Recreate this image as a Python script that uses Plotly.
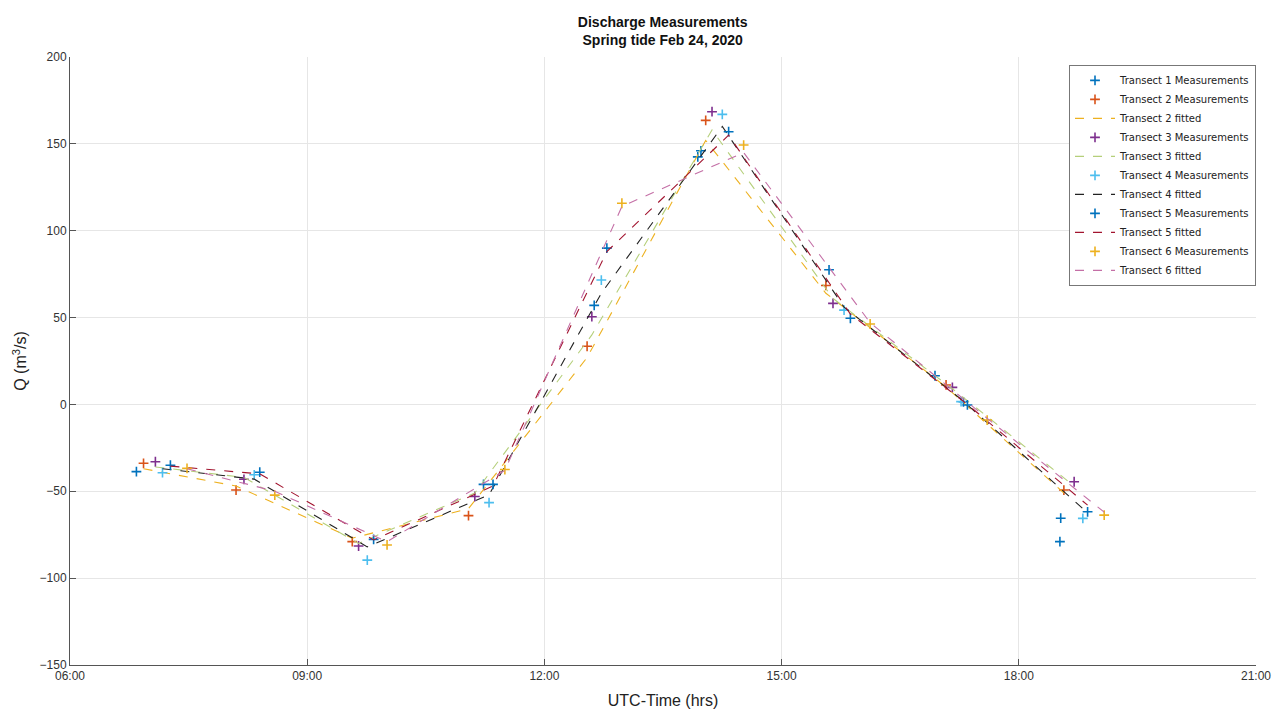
import plotly.graph_objects as go

# Measurement times (decimal hours UTC) and discharge (m^3/s) per transect
t1_time = [6.84, 11.23, 12.63, 13.94, 13.98, 15.60, 16.94, 17.30, 18.52, 18.53]
t1_q = [-38.7, -46.0, 57.0, 142.5, 146.0, 77.5, 16.5, 1.5, -79.0, -65.5]

t2_time = [6.93, 8.10, 9.57, 11.04, 12.54, 14.04, 15.56, 17.08, 18.57]
t2_q = [-33.9, -49.3, -79.0, -64.0, 33.5, 163.5, 68.5, 11.2, -49.3]
t2_fit = [-37.0, -47.0, -77.0, -60.0, 27.0, 152.0, 64.0, 10.0, -51.0]

t3_time = [7.08, 8.20, 9.65, 11.12, 12.60, 14.12, 15.65, 17.16, 18.70]
t3_q = [-33.0, -43.1, -81.5, -53.0, 50.5, 168.5, 58.2, 9.8, -44.5]
t3_fit = [-36.0, -42.0, -80.0, -51.0, 40.0, 158.0, 61.0, 9.0, -47.0]

t4_time = [7.17, 8.33, 9.76, 11.30, 12.72, 14.25, 15.79, 17.27, 18.81]
t4_q = [-39.3, -40.5, -89.6, -56.5, 71.6, 167.0, 54.3, 1.6, -65.6]
t4_fit = [-37.0, -43.0, -82.0, -52.0, 64.0, 160.0, 56.0, 3.0, -60.0]

t5_time = [7.27, 8.40, 9.84, 11.35, 12.79, 14.33, 15.87, 17.35, 18.87]
t5_q = [-35.0, -39.0, -77.7, -46.0, 90.0, 157.0, 49.6, -0.3, -61.8]
t5_fit = [-35.5, -40.0, -78.0, -47.0, 88.0, 155.0, 52.0, 0.0, -58.0]

t6_time = [7.48, 8.59, 10.01, 11.50, 12.98, 14.52, 16.12, 17.60, 19.08]
t6_q = [-36.8, -52.2, -80.9, -37.5, 115.8, 149.3, 46.3, -9.0, -63.7]
t6_fit = [-37.0, -50.0, -79.0, -38.0, 114.0, 145.0, 47.0, -8.0, -62.0]

x_tick_vals = [6, 9, 12, 15, 18, 21]
x_tick_text = ["06:00", "09:00", "12:00", "15:00", "18:00", "21:00"]

BLUE = "#0072BD"
ORANGE = "#D95319"
YELLOW = "#EDB120"
PURPLE = "#7E2F8E"
GREEN = "#B5CF7A"
LIGHTBLUE = "#4DBEEE"
BLACK = "#222222"
DARKRED = "#A2142F"
PINK = "#C46FA6"


def meas(x, y, name, color):
    return go.Scatter(
        x=x, y=y, mode="markers", name=name,
        marker=dict(symbol="cross-thin", size=7, color=color,
                    line=dict(width=1.6, color=color)),
    )


def fitted(x, y, name, color):
    return go.Scatter(
        x=x, y=y, mode="lines", name=name,
        line=dict(color=color, width=1.1, dash="dash"),
    )


fig = go.Figure()
fig.add_trace(meas(t1_time, t1_q, "Transect 1 Measurements", BLUE))
fig.add_trace(meas(t2_time, t2_q, "Transect 2 Measurements", ORANGE))
fig.add_trace(fitted(t2_time, t2_fit, "Transect 2 fitted", YELLOW))
fig.add_trace(meas(t3_time, t3_q, "Transect 3 Measurements", PURPLE))
fig.add_trace(fitted(t3_time, t3_fit, "Transect 3 fitted", GREEN))
fig.add_trace(meas(t4_time, t4_q, "Transect 4 Measurements", LIGHTBLUE))
fig.add_trace(fitted(t4_time, t4_fit, "Transect 4 fitted", BLACK))
fig.add_trace(meas(t5_time, t5_q, "Transect 5 Measurements", BLUE))
fig.add_trace(fitted(t5_time, t5_fit, "Transect 5 fitted", DARKRED))
fig.add_trace(meas(t6_time, t6_q, "Transect 6 Measurements", YELLOW))
fig.add_trace(fitted(t6_time, t6_fit, "Transect 6 fitted", PINK))

axis_font = dict(family="Liberation Sans, Arial, sans-serif", size=12, color="#333333")

fig.update_layout(
    width=1288, height=714,
    margin=dict(l=70, r=32, t=57, b=49),
    paper_bgcolor="white", plot_bgcolor="white",
    font=dict(family="Liberation Sans, Arial, sans-serif", color="#222222"),
    title=dict(
        text="<b>Discharge Measurements</b><br><b>Spring tide Feb 24, 2020</b>",
        x=0.5145, xanchor="center", yref="container", y=0.962, yanchor="middle",
        font=dict(size=14, color="#111111"),
    ),
    showlegend=True,
    legend=dict(
        x=1.0, xanchor="right", y=0.987, yanchor="top",
        bgcolor="white", bordercolor="#777777", borderwidth=1,
        font=dict(family="DejaVu Sans, sans-serif", size=10, color="#222222"),
        tracegroupgap=0, itemwidth=40,
    ),
    xaxis=dict(
        range=[6, 21], tickvals=x_tick_vals, ticktext=x_tick_text,
        showgrid=True, gridcolor="#e6e6e6", gridwidth=1,
        showline=True, linecolor="#555555", linewidth=1,
        ticks="inside", ticklen=6, tickcolor="#555555",
        tickfont=axis_font, zeroline=False, automargin=False,
        title=dict(text="UTC-Time (hrs)", font=dict(size=16, color="#222222"), standoff=12),
    ),
    yaxis=dict(
        range=[-150, 200], dtick=50,
        showgrid=True, gridcolor="#e6e6e6", gridwidth=1,
        showline=True, linecolor="#555555", linewidth=1,
        ticks="inside", ticklen=6, tickcolor="#555555",
        tickfont=axis_font, zeroline=False, automargin=False,
        title=dict(text="Q (m<sup>3</sup>/s)", font=dict(size=16, color="#222222"), standoff=8),
    ),
)

fig.write_html("out.html")
